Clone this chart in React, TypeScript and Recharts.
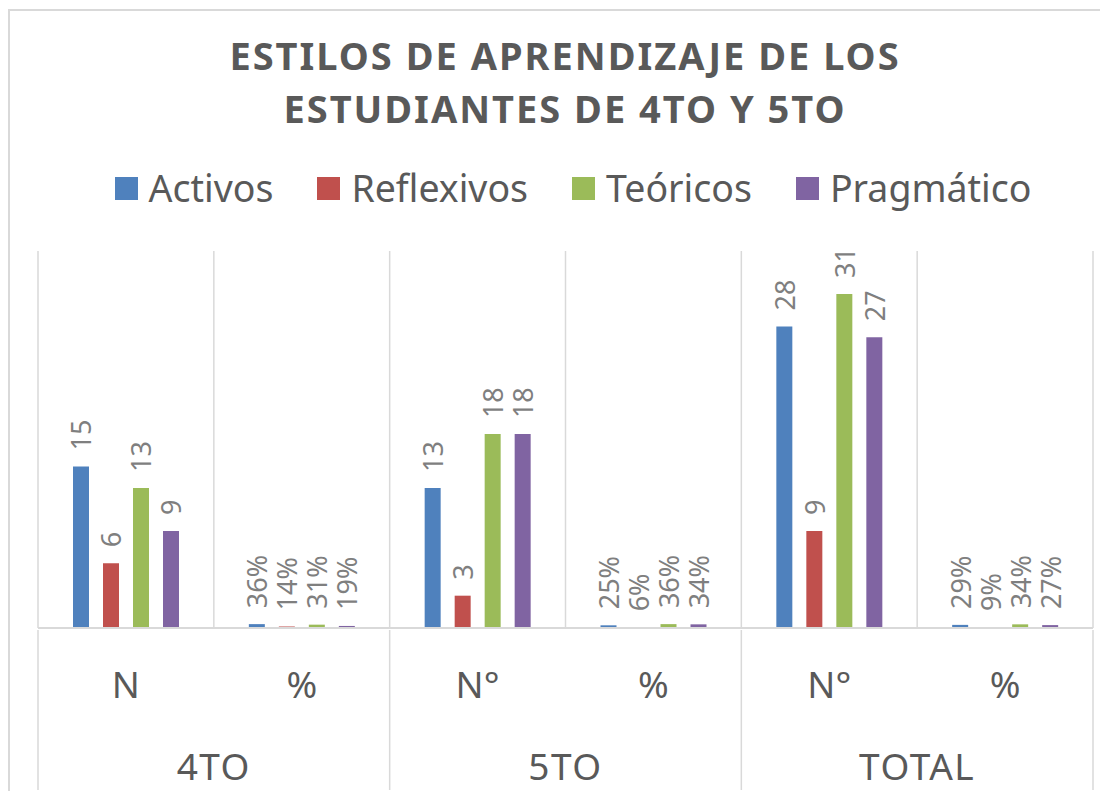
import React from "react";
import { BarChart, Bar, XAxis, YAxis, CartesianGrid, Legend, LabelList } from "recharts";

const titleLines = ["ESTILOS DE APRENDIZAJE DE LOS", "ESTUDIANTES DE 4TO Y 5TO"];
const categories = ["N", "%", "N°", "%", "N°", "%"];
const groups = ["4TO", "5TO", "TOTAL"];
const seriesNames = ["Activos", "Reflexivos", "Teóricos", "Pragmático"];
const seriesColors = ["#4f81bd", "#c0504d", "#9bbb59", "#8064a2"];
const activos = [15, 0.36, 13, 0.25, 28, 0.29];
const reflexivos = [6, 0.14, 3, 0.06, 9, 0.09];
const teoricos = [13, 0.31, 18, 0.36, 31, 0.34];
const pragmatico = [9, 0.19, 18, 0.34, 27, 0.27];
const seriesValues = [activos, reflexivos, teoricos, pragmatico];

const data = categories.map((c, i) => {
  const row: any = { id: String(i), cat: c };
  seriesNames.forEach((s, k) => {
    row[s] = seriesValues[k][i];
  });
  return row;
});

const FONT = "'Noto Sans', 'Open Sans', sans-serif";
const W = 1098;
const H = 780;

const AxisTick = (props: any) => {
  const { x, y, payload, width } = props;
  const half = payload && payload.offset ? payload.offset : width / categories.length / 2;
  const bottom = H - 1 - y;
  const i = Number(payload.value);
  return (
    <g>
      <text x={x} y={y + 68} textAnchor="middle" fontSize={37} fill="#595959" fontFamily={FONT}>
        {categories[i]}
      </text>
      {i % 2 === 0 && (
        <>
          <line x1={x - half} x2={x - half} y1={y} y2={y + bottom} stroke="#d9d9d9" strokeWidth={1.5} />
          <text x={x + half} y={y + 150} textAnchor="middle" fontSize={37} fill="#595959" fontFamily={FONT} letterSpacing={1.5}>
            {groups[i / 2]}
          </text>
        </>
      )}
      {i === categories.length - 1 && (
        <line x1={x + half} x2={x + half} y1={y} y2={y + bottom} stroke="#d9d9d9" strokeWidth={1.5} />
      )}
    </g>
  );
};

const makeLabel = (props: any) => {
  const { x, y, width, value, index } = props;
  const cx = x + width / 2;
  const ty = y - 16;
  const txt = categories[index] === "%" ? `${Math.round(value * 100)}%` : String(value);
  return (
    <text
      x={cx}
      y={ty}
      transform={`rotate(-90 ${cx} ${ty})`}
      textAnchor="start"
      dominantBaseline="central"
      fontSize={27}
      fill="#7f7f7f"
      fontFamily={FONT}
    >
      {txt}
    </text>
  );
};

const LegendContent = () => (
  <div style={{ display: "flex", justifyContent: "center", alignItems: "center", height: 50, fontFamily: FONT, paddingLeft: 28 }}>
    {seriesNames.map((s, k) => (
      <div key={s} style={{ display: "flex", alignItems: "center", marginRight: k < seriesNames.length - 1 ? 44 : 0 }}>
        <div style={{ width: 23, height: 23, background: seriesColors[k], marginRight: 11 }} />
        <span style={{ fontSize: 37.5, color: "#595959", lineHeight: "50px" }}>{s}</span>
      </div>
    ))}
  </div>
);

export default function App() {
  return (
    <div style={{ paddingTop: 1 }}>
      <div
        style={{
          position: "relative",
          width: W,
          height: H,
          borderLeft: "2px solid #d9d9d9",
          borderTop: "2px solid #d9d9d9",
          background: "#fff",
        }}
      >
        <svg width={W} height={140} style={{ position: "absolute", left: 0, top: 0 }}>
          {titleLines.map((t, k) => (
            <text
              key={k}
              x={555}
              y={59 + k * 53}
              textAnchor="middle"
              fontSize={38}
              fontWeight="bold"
              fill="#595959"
              fontFamily={FONT}
              letterSpacing={2}
            >
              {t}
            </text>
          ))}
        </svg>
        <BarChart
          width={W}
          height={H}
          data={data}
          margin={{ top: 190, right: 15, left: 28, bottom: 0 }}
          barSize={16}
          barGap={14}
          barCategoryGap={35}
        >
          <CartesianGrid
            horizontal={false}
            stroke="#d9d9d9"
            strokeWidth={1.5}
            verticalCoordinatesGenerator={({ offset }: any) =>
              categories.map((_, i) => offset.left + (i * offset.width) / categories.length).concat([offset.left + offset.width])
            }
          />
          <XAxis
            dataKey="id"
            height={163}
            tickSize={0}
            tickLine={false}
            axisLine={{ stroke: "#d9d9d9", strokeWidth: 2 }}
            tick={<AxisTick />}
            interval={0}
          />
          <YAxis hide domain={[0, 35]} />
          <Legend
            verticalAlign="top"
            content={<LegendContent />}
            wrapperStyle={{ position: "absolute", top: 152, left: 0, width: W }}
          />
          {seriesNames.map((s, k) => (
            <Bar key={s} dataKey={s} fill={seriesColors[k]} isAnimationActive={false}>
              <LabelList dataKey={s} content={makeLabel} />
            </Bar>
          ))}
        </BarChart>
      </div>
    </div>
  );
}
